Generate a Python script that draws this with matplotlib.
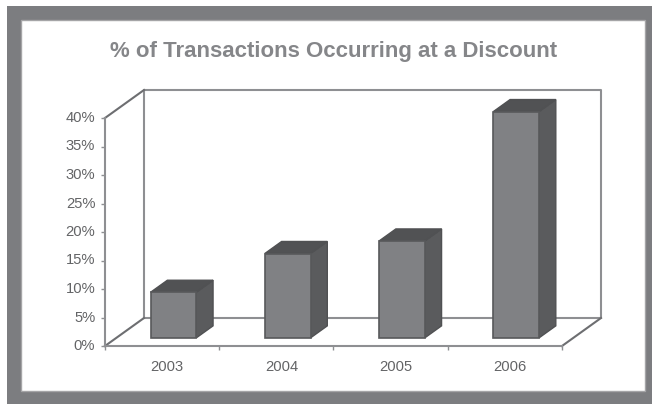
import matplotlib
matplotlib.use('Agg')
import matplotlib.pyplot as plt
from matplotlib.patches import Polygon, Rectangle
from matplotlib.transforms import ScaledTranslation

years = ['2003', '2004', '2005', '2006']
discount_pct = [8, 14.8, 17, 39.7]
pct_ticks = [0, 5, 10, 15, 20, 25, 30, 35, 40]
pct_labels = ['0%', '5%', '10%', '15%', '20%', '25%', '30%', '35%', '40%']
title = '% of Transactions Occurring at a Discount'

W, H = 652, 404
plt.rcParams['font.family'] = ['Liberation Sans', 'DejaVu Sans']

fig = plt.figure(figsize=(W / 100, H / 100), dpi=100, facecolor='white')

# grey frame and white panel, in pixels (behind the axes)
fig.add_artist(Rectangle((7 / W, 0), 645 / W, 398 / H, transform=fig.transFigure, fc='#7c7d80', ec='none', zorder=-2))
fig.add_artist(Rectangle((21 / W, 13 / H), 624 / W, 371 / H, transform=fig.transFigure, fc='white', ec='#a5a5a7', lw=1, zorder=-1))

# front plane of the fake 3d box: x 105..562, y 346..118
ax = fig.add_axes([105 / W, (H - 346) / H, 457 / W, 228 / H])
ax.set_xlim(0, 4)
ax.set_ylim(0, 40)
ax.patch.set_alpha(0)
for s in ax.spines.values():
    s.set_visible(False)

# depth vector in data units
dx = 39 / (457 / 4)
dy = 28 / (228 / 40)
line = '#8e8f92'
lw = 1.5


def proj(x, y, d):
    return x + dx * d, y + dy * d


# back wall and floor edges
xs = [proj(0, 0, 1), proj(0, 40, 1), proj(4, 40, 1), proj(4, 0, 1), proj(0, 0, 1)]
ax.plot([p[0] for p in xs], [p[1] for p in xs], color=line, lw=lw, clip_on=False, zorder=1)
for a, b in [(proj(0, 0, 0), proj(0, 0, 1)), (proj(0, 40, 0), proj(0, 40, 1)), (proj(4, 0, 0), proj(4, 0, 1))]:
    ax.plot([a[0], b[0]], [a[1], b[1]], color='#6d6e71', lw=lw, clip_on=False, zorder=1)
ax.plot([0, 0], [0, 40], color=line, lw=lw, clip_on=False, zorder=1)
ax.plot([0, 4], [0, 0], color=line, lw=lw, clip_on=False, zorder=1)

# bars
bar_w = 0.40
d0, d1 = 0.29, 0.72
for i, v in enumerate(discount_pct):
    xc = i + 0.5
    l, r = xc - bar_w / 2, xc + bar_w / 2
    front = [proj(l, 0, d0), proj(r, 0, d0), proj(r, v, d0), proj(l, v, d0)]
    side = [proj(r, 0, d0), proj(r, 0, d1), proj(r, v, d1), proj(r, v, d0)]
    top = [proj(l, v, d0), proj(r, v, d0), proj(r, v, d1), proj(l, v, d1)]
    ax.add_patch(Polygon(side, fc='#5a5b5d', ec='#505153', lw=1, clip_on=False, zorder=3))
    ax.add_patch(Polygon(top, fc='#515254', ec='#505153', lw=1, clip_on=False, zorder=3))
    ax.add_patch(Polygon(front, fc='#808184', ec='#58595b', lw=1.2, clip_on=False, zorder=4))

ax.set_yticks(pct_ticks)
ax.set_yticklabels(pct_labels)
ax.set_xticks(range(5))
ax.set_xticklabels([])
ax.set_xticks([i + 0.545 for i in range(4)], minor=True)
ax.set_xticklabels(years, minor=True)
ax.tick_params(axis='x', which='major', length=3, width=1, color=line)
ax.tick_params(axis='x', which='minor', length=0, pad=10, labelsize=10.6, labelcolor='#636466')
ax.tick_params(axis='y', length=3, width=1, color=line, pad=4, labelsize=10.6, labelcolor='#636466')

# y labels sit a touch above their ticks
for lab in ax.get_yticklabels():
    lab.set_transform(lab.get_transform() + ScaledTranslation(0, 1.5 / 100, fig.dpi_scale_trans))

fig.text(333.5 / W, (H - 51.5) / H, title, ha='center', va='center', fontsize=16, fontweight='bold', color='#858689')

fig.savefig('out.png', dpi=100)
